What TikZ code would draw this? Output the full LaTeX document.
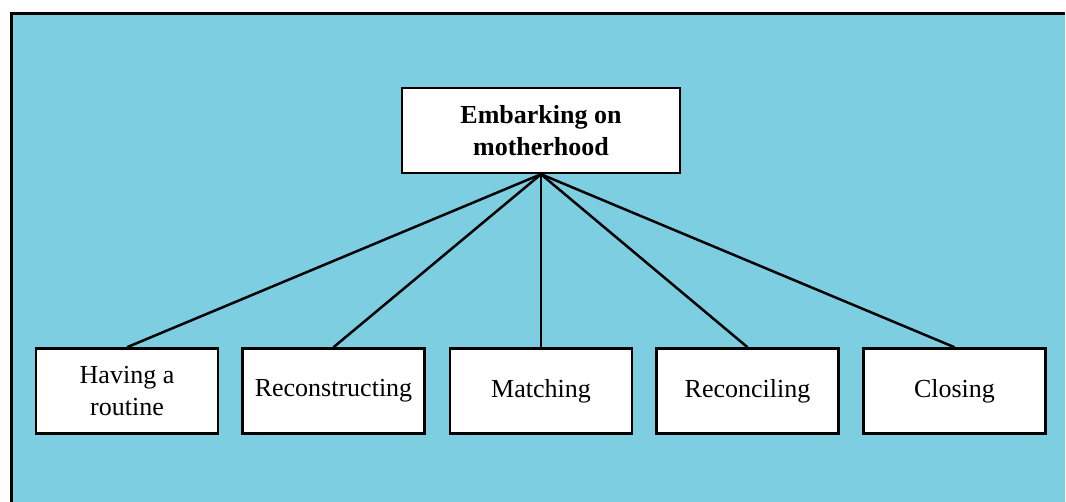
\documentclass[tikz,border=0pt]{standalone}
\usepackage{fontspec}
\setmainfont{Liberation Serif}
\definecolor{panelblue}{RGB}{126,206,226}
\begin{document}
\begin{tikzpicture}[x=1pt,y=-1pt,
  box/.style={draw=black, line width=2.5pt, fill=white, minimum width=182pt,
    minimum height=85pt, align=center, inner sep=0pt,
    font=\fontsize{26}{32}\selectfont},
  topbox/.style={box, minimum width=278pt, font=\fontsize{26}{32}\selectfont\bfseries},
  link/.style={draw=black, line width=2.5pt}]
\useasboundingbox (0,0) rectangle (1066,502);
% panel
\fill[panelblue] (11.5,13.5) rectangle (1065,502);
\draw[line width=3pt] (11.5,502) -- (11.5,13.5) -- (1065,13.5);
% nodes
\node[topbox] (root) at (541,130.5) {Embarking on\\motherhood};
\node[box] (a) at (127,391) {Having a\\routine};
\node[box] (b) at (333.5,391) {Reconstructing};
\node[box] (c) at (541,391) {Matching};
\node[box] (d) at (747.5,391) {Reconciling};
\node[box] (e) at (954.5,391) {Closing};
% connectors
\foreach \n in {a,b,c,d,e}
  \draw[link] (root.south) -- (\n.north);
\end{tikzpicture}
\end{document}
